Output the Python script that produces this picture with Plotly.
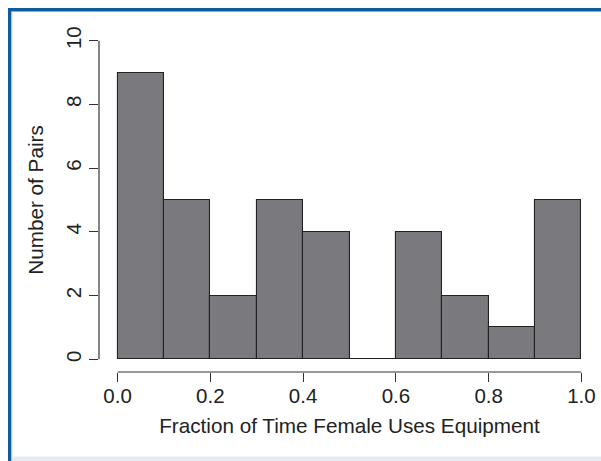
import plotly.graph_objects as go

# Data
bin_edges = [0.0, 0.1, 0.2, 0.3, 0.4, 0.5, 0.6, 0.7, 0.8, 0.9, 1.0]
counts = [9, 5, 2, 5, 4, 0, 4, 2, 1, 5]
x_ticks = [0.0, 0.2, 0.4, 0.6, 0.8, 1.0]
x_tick_labels = ["0.0", "0.2", "0.4", "0.6", "0.8", "1.0"]
y_ticks = [0, 2, 4, 6, 8, 10]
y_tick_labels = ["0", "2", "4", "6", "8", "10"]

W, H = 601, 461
ML, MR, MT, MB = 99, 1, 28, 89
PW, PH = W - ML - MR, H - MT - MB

def px(x):
    return (x - ML) / PW

def py(y):
    return (H - MB - y) / PH

centers = [(a + b) / 2 for a, b in zip(bin_edges[:-1], bin_edges[1:])]
widths = [b - a for a, b in zip(bin_edges[:-1], bin_edges[1:])]

FONT = "Liberation Sans, Arial, Helvetica, sans-serif"
TXT = "#222222"

fig = go.Figure()
fig.add_trace(go.Bar(
    x=centers, y=counts, width=widths,
    marker=dict(color="#79797e", line=dict(color="#222222", width=1.1)),
    hoverinfo="x+y",
))

shapes = []
# R-style axis lines spanning first to last tick
shapes.append(dict(type="line", xref="x", yref="paper", x0=x_ticks[0], x1=x_ticks[-1],
                   y0=0, y1=0, line=dict(color="#333333", width=1.2)))
shapes.append(dict(type="line", xref="paper", yref="y", x0=0, x1=0,
                   y0=y_ticks[0], y1=y_ticks[-1], line=dict(color="#333333", width=1.2)))
# Decorative frame
shapes.append(dict(type="rect", xref="paper", yref="paper", x0=px(8), x1=px(11.5),
                   y0=py(461), y1=py(8), fillcolor="#0e5c9e", line=dict(width=0), layer="above"))
shapes.append(dict(type="rect", xref="paper", yref="paper", x0=px(8), x1=px(601),
                   y0=py(11.5), y1=py(8), fillcolor="#0e5c9e", line=dict(width=0), layer="above"))
shapes.append(dict(type="rect", xref="paper", yref="paper", x0=px(11.5), x1=px(12.5),
                   y0=py(461), y1=py(11.5), fillcolor="#cfdcec", line=dict(width=0), layer="above"))
shapes.append(dict(type="rect", xref="paper", yref="paper", x0=px(12.5), x1=px(601),
                   y0=py(461), y1=py(456.5), fillcolor="#e7ecf4", line=dict(width=0), layer="above"))

fig.update_layout(
    width=W, height=H,
    margin=dict(l=ML, r=MR, t=MT, b=MB, autoexpand=False),
    paper_bgcolor="white", plot_bgcolor="white",
    showlegend=False,
    bargap=0,
    font=dict(family=FONT, size=20, color=TXT),
    shapes=shapes,
    xaxis=dict(
        range=[-0.04, 1.04], showgrid=False, zeroline=False, showline=False,
        tickmode="array", tickvals=x_ticks, ticktext=x_tick_labels,
        ticks="outside", ticklen=9, tickwidth=1.2, tickcolor="#333333",
        tickfont=dict(size=20.5, color=TXT),
        ticklabelstandoff=-4,
        title=dict(text="Fraction of Time Female Uses Equipment",
                   font=dict(size=20.7, color=TXT), standoff=12),
        automargin=False,
    ),
    yaxis=dict(
        range=[-0.4, 10.4], showgrid=False, zeroline=False, showline=False,
        tickmode="array", tickvals=y_ticks, ticktext=y_tick_labels,
        ticks="outside", ticklen=9, tickwidth=1.2, tickcolor="#333333",
        tickangle=-90,
        tickfont=dict(size=20.5, color=TXT),
        title=dict(text="Number of Pairs", font=dict(size=20.7, color=TXT), standoff=12),
        automargin=False,
    ),
)

fig.write_html("out.html", config={"displayModeBar": False},
               post_script="document.body.style.margin='0px';document.body.style.overflow='hidden';")
